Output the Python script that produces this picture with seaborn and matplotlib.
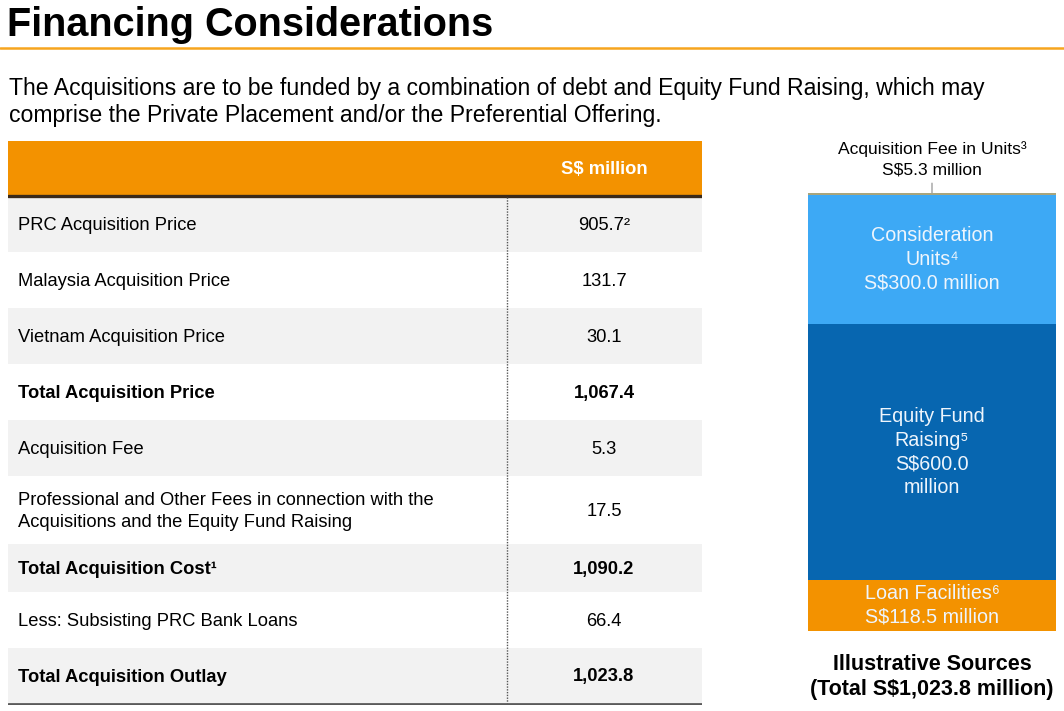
import matplotlib
matplotlib.use("Agg")
import matplotlib.pyplot as plt
import seaborn as sns
import pandas as pd

# table data
row_labels = ["PRC Acquisition Price", "Malaysia Acquisition Price", "Vietnam Acquisition Price",
              "Total Acquisition Price", "Acquisition Fee",
              "Professional and Other Fees in connection with the\nAcquisitions and the Equity Fund Raising",
              "Total Acquisition Cost\u00b9", "Less: Subsisting PRC Bank Loans", "Total Acquisition Outlay"]
row_values = ["905.7\u00b2", "131.7", "30.1", "1,067.4", "5.3", "17.5", "1,090.2", "66.4", "1,023.8"]
row_bold = [False, False, False, True, False, False, True, False, True]

# sources (bottom to top)
src_names = ["Loan Facilities", "Equity Fund Raising", "Consideration Units", "Acquisition Fee in Units"]
src_values = [118.5, 600.0, 300.0, 5.3]
src_labels = ["Loan Facilities\u2076\nS$118.5 million", "Equity Fund\nRaising\u2075\nS$600.0\nmillion",
              "Consideration\nUnits\u2074\nS$300.0 million", "Acquisition Fee in Units\u00b3\nS$5.3 million"]
src_colors = ["#F39200", "#0766B0", "#3DA9F5", "#A9A57C"]

sns.set_theme(style="white")
plt.rcParams['font.family'] = ['Liberation Sans', 'DejaVu Sans']

W, H = 1064, 711
fig = plt.figure(figsize=(W / 100, H / 100), dpi=100)
fig.patch.set_facecolor("white")

def fx(x):
    return x / W

def fy(y):
    return 1 - y / H

# title and intro
fig.text(fx(7), fy(36), "Financing Considerations", fontsize=28.5, fontweight="bold", va="baseline", color="black")
fig.add_artist(plt.Line2D([0, 1], [fy(48), fy(48)], color="#F7A51E", lw=1.8))
fig.text(fx(9), fy(95), "The Acquisitions are to be funded by a combination of debt and Equity Fund Raising, which may",
         fontsize=16.6, va="baseline", color="black")
fig.text(fx(9), fy(122), "comprise the Private Placement and/or the Preferential Offering.",
         fontsize=16.6, va="baseline", color="black")

# table
ax_t = fig.add_axes([fx(8), fy(705), fx(702) - fx(8), fy(141) - fy(705)])
ax_t.set_xlim(8, 702)
ax_t.set_ylim(705, 141)
ax_t.axis("off")
edges = [197, 252, 308, 364, 420, 476, 544, 592, 648, 703]
ax_t.axhspan(141, 195, color="#F39200", lw=0)
ax_t.axhline(195.5, color="#3A2A1A", lw=2.4)
ax_t.text(604, 169, "S$ million", fontsize=13.2, fontweight="bold", color="white", ha="center", va="center")
for i, (lab, val, b) in enumerate(zip(row_labels, row_values, row_bold)):
    top, bot = edges[i], edges[i + 1]
    if i % 2 == 0:
        ax_t.axhspan(top, bot, color="#F2F2F2", lw=0)
    mid = (top + bot) / 2 + 1.5
    w = "bold" if b else "normal"
    ax_t.text(18, mid, lab, fontsize=13.2, fontweight=w, va="center", ha="left", linespacing=1.35, color="black")
    ax_t.text(604, mid, val, fontsize=13.2, fontweight=w, va="center", ha="center", color="black")
ax_t.plot([507, 507], [197, 703], color="#555555", lw=1, ls=(0, (1, 1)))
ax_t.axhline(703.5, color="#5A5A5A", lw=2)

# stacked sources bar
ax_b = fig.add_axes([fx(808), fy(631), fx(1056) - fx(808), fy(193) - fy(631)])
cum = pd.Series(src_values).cumsum().tolist()
total = cum[-1]
for i in range(len(src_values) - 1, -1, -1):
    sns.barplot(x=[0], y=[cum[i]], color=src_colors[i], width=1.0, saturation=1, ax=ax_b, linewidth=0)
ax_b.set_xlim(-0.5, 0.5)
ax_b.set_ylim(0, total)
ax_b.axis("off")

bottoms = [0] + cum[:-1]
for i in range(3):
    mid = bottoms[i] + src_values[i] / 2
    ax_b.text(0, mid, src_labels[i], ha="center", va="center", fontsize=14.2, color="#EEF5FC",
              linespacing=1.3)
ax_b.annotate(src_labels[3], xy=(0, total), xytext=(0, total + 37), ha="center", va="bottom",
              fontsize=12.6, color="black", linespacing=1.45, annotation_clip=False,
              arrowprops=dict(arrowstyle="-", color="#A0A0A0", lw=1, shrinkA=2, shrinkB=0))

fig.text(fx(932), fy(664), "Illustrative Sources", ha="center", va="center",
         fontsize=15.5, fontweight="bold", color="black")
fig.text(fx(932), fy(689), "(Total S$1,023.8 million)", ha="center", va="center",
         fontsize=15.5, fontweight="bold", color="black")

fig.savefig("out.png", dpi=100)
